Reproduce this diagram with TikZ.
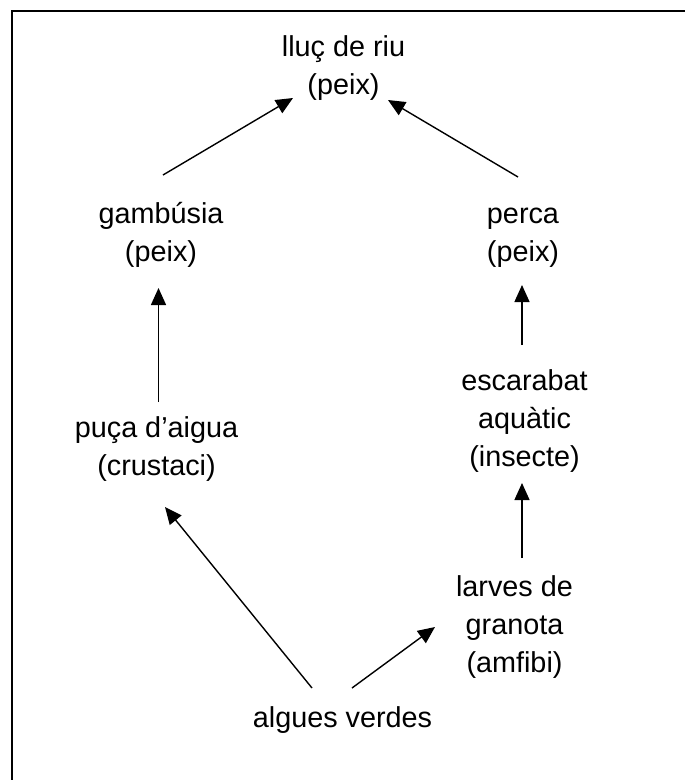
\documentclass[tikz,border=0pt]{standalone}
\usepackage{fontspec}
\setmainfont{Liberation Sans}
\usetikzlibrary{arrows.meta,calc}
\tikzset{
  lab/.style={align=center,inner sep=0pt,font=\fontsize{28.8}{38}\selectfont},
  arr/.style={line width=1.4pt,-{Triangle[length=17pt,width=15pt]}},
  frame/.style={line width=2.5pt}
}
\newcommand{\lnstrut}{\rule{0pt}{26.6pt}\rule[-11.4pt]{0pt}{11.4pt}}
\begin{document}
\begin{tikzpicture}[x=1pt,y=-1pt]
\useasboundingbox (0,0) rectangle (685,780);
\clip (0,0) rectangle (685,780);
\draw[frame] (12,11) rectangle (720,820);
\node[lab] (lluc) at (343.5,68.3) {\lnstrut lluç de riu\\\lnstrut (peix)};
\node[lab] (gam) at (161,234.8) {\lnstrut gambúsia\\\lnstrut (peix)};
\node[lab] (perca) at (523,234.8) {\lnstrut perca\\\lnstrut (peix)};
\node[lab] (esc) at (524.5,421.3) {\lnstrut escarabat\\\lnstrut aquàtic\\\lnstrut (insecte)};
\node[lab] (puca) at (156.5,449.3) {\lnstrut puça d’aigua\\\lnstrut (crustaci)};
\node[lab] (larv) at (514.5,627.3) {\lnstrut larves de\\\lnstrut granota\\\lnstrut (amfibi)};
\node[lab] (alg) at (342.5,720.3) {\lnstrut algues verdes};
\draw[arr] ($(gam)+(2,-59.8)$) -- ($(lluc)+(-50.5,29.7)$);
\draw[arr] ($(perca)+(-5,-57.8)$) -- ($(lluc)+(44.5,31.7)$);
\draw[arr] ($(puca)+(2,-47.3)$) -- ($(gam)+(-2.5,53.2)$);
\draw[arr] ($(esc)+(-2.5,-76.3)$) -- ($(perca)+(-1,50.2)$);
\draw[arr] ($(larv)+(7.5,-69.3)$) -- ($(esc)+(-2.5,61.7)$);
\draw[arr] ($(alg)+(-30.5,-32.3)$) -- ($(puca)+(8.5,57.7)$);
\draw[arr] ($(alg)+(9.5,-32.3)$) -- ($(larv)+(-79.5,-0.3)$);
\end{tikzpicture}
\end{document}
